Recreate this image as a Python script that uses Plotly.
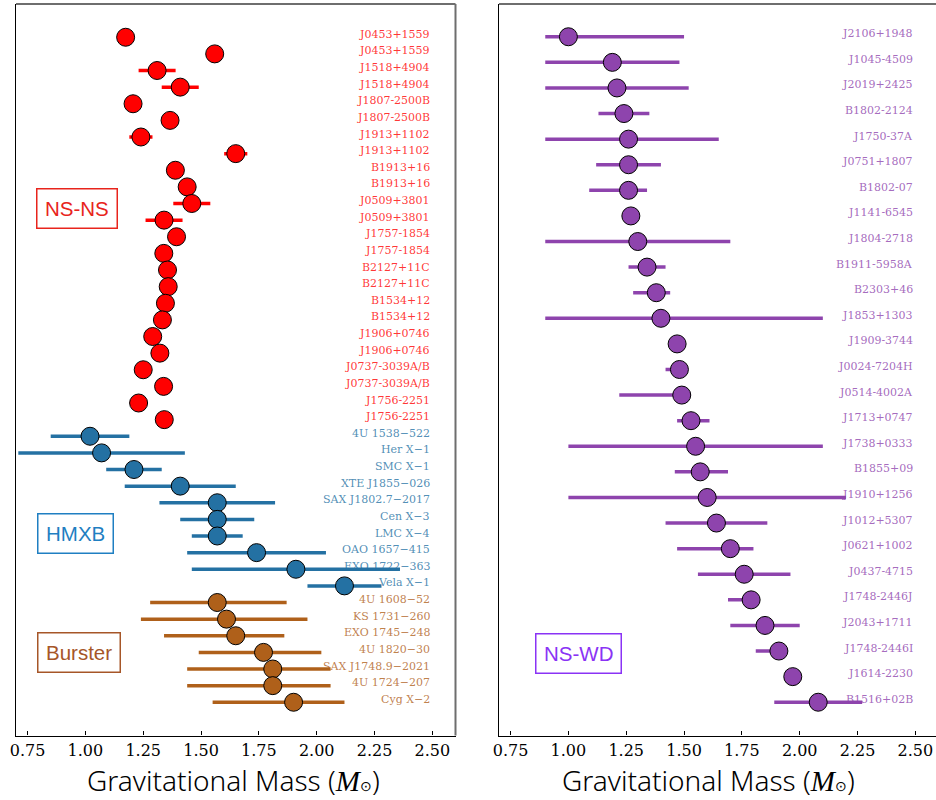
import plotly.graph_objects as go

# ---------------- data ----------------
# Double neutron star systems (pulsar and companion masses)
nsns_names = ["J0453+1559", "J0453+1559", "J1518+4904", "J1518+4904",
              "J1807-2500B", "J1807-2500B", "J1913+1102", "J1913+1102",
              "B1913+16", "B1913+16", "J0509+3801", "J0509+3801",
              "J1757-1854", "J1757-1854", "B2127+11C", "B2127+11C",
              "B1534+12", "B1534+12", "J1906+0746", "J1906+0746",
              "J0737-3039A/B", "J0737-3039A/B", "J1756-2251", "J1756-2251"]
nsns_mass = [1.174, 1.559, 1.31, 1.41, 1.206, 1.366, 1.24, 1.65,
             1.389, 1.440, 1.46, 1.34, 1.394, 1.339, 1.355, 1.358,
             1.346, 1.333, 1.291, 1.322, 1.250, 1.338, 1.230, 1.341]
nsns_lo = [0.0, 0.0, 0.08, 0.08, 0.0, 0.0, 0.05, 0.05,
           0.0, 0.0, 0.08, 0.08, 0.0, 0.0, 0.0, 0.0,
           0.0, 0.0, 0.0, 0.0, 0.0, 0.0, 0.0, 0.0]
nsns_hi = [0.0, 0.0, 0.08, 0.08, 0.0, 0.0, 0.05, 0.05,
           0.0, 0.0, 0.08, 0.08, 0.0, 0.0, 0.0, 0.0,
           0.0, 0.0, 0.0, 0.0, 0.0, 0.0, 0.0, 0.0]

# High-mass X-ray binaries
hmxb_names = ["4U 1538\u2212522", "Her X\u22121", "SMC X\u22121", "XTE J1855\u2212026",
              "SAX J1802.7\u22122017", "Cen X\u22123", "LMC X\u22124",
              "OAO 1657\u2212415", "EXO 1722\u2212363", "Vela X\u22121"]
hmxb_mass = [1.02, 1.07, 1.21, 1.41, 1.57, 1.57, 1.57, 1.74, 1.91, 2.12]
hmxb_lo = [0.17, 0.36, 0.12, 0.24, 0.25, 0.16, 0.11, 0.30, 0.45, 0.16]
hmxb_hi = [0.17, 0.36, 0.12, 0.24, 0.25, 0.16, 0.11, 0.30, 0.45, 0.16]

# X-ray bursters
burst_names = ["4U 1608\u221252", "KS 1731\u2212260", "EXO 1745\u2212248",
               "4U 1820\u221230", "SAX J1748.9\u22122021", "4U 1724\u2212207",
               "Cyg X\u22122"]
burst_mass = [1.57, 1.61, 1.65, 1.77, 1.81, 1.81, 1.90]
burst_lo = [0.29, 0.37, 0.31, 0.28, 0.37, 0.37, 0.35]
burst_hi = [0.30, 0.35, 0.21, 0.25, 0.25, 0.25, 0.22]

# Neutron star - white dwarf binaries
nswd_names = ["J2106+1948", "J1045-4509", "J2019+2425", "B1802-2124",
              "J1750-37A", "J0751+1807", "B1802-07", "J1141-6545",
              "J1804-2718", "B1911-5958A", "B2303+46", "J1853+1303",
              "J1909-3744", "J0024-7204H", "J0514-4002A", "J1713+0747",
              "J1738+0333", "B1855+09", "J1910+1256", "J1012+5307",
              "J0621+1002", "J0437-4715", "J1748-2446J", "J2043+1711",
              "J1748-2446I", "J1614-2230", "B1516+02B"]
nswd_mass = [1.00, 1.19, 1.21, 1.24, 1.26, 1.26, 1.26, 1.27,
             1.30, 1.34, 1.38, 1.40, 1.47, 1.48, 1.49, 1.53,
             1.55, 1.57, 1.60, 1.64, 1.70, 1.76, 1.79, 1.85,
             1.91, 1.97, 2.08]
nswd_lo = [0.10, 0.29, 0.31, 0.11, 0.36, 0.14, 0.17, 0.0,
           0.40, 0.08, 0.10, 0.50, 0.0, 0.06, 0.27, 0.06,
           0.55, 0.11, 0.60, 0.22, 0.23, 0.20, 0.10, 0.15,
           0.10, 0.0, 0.19]
nswd_hi = [0.50, 0.29, 0.31, 0.11, 0.39, 0.14, 0.08, 0.0,
           0.40, 0.08, 0.06, 0.70, 0.0, 0.03, 0.04, 0.08,
           0.55, 0.12, 0.60, 0.22, 0.10, 0.20, 0.03, 0.15,
           0.02, 0.0, 0.19]

tick_vals = [0.75, 1.00, 1.25, 1.50, 1.75, 2.00, 2.25, 2.50]

# ---------------- styling ----------------
W, H = 936, 800
C_NSNS = "#ff0000"
C_HMXB = "#2471a3"
C_BURST = "#af601a"
C_NSWD = "#8e44ad"
SERIF = "DejaVu Serif, serif"


def rgba(hex_color, a):
    h = hex_color.lstrip("#")
    r, g, b = int(h[0:2], 16), int(h[2:4], 16), int(h[4:6], 16)
    return f"rgba({r},{g},{b},{a})"


left_px = (16, 455.5)
right_px = (499, 936)
top_px, bot_px = 4, 735.5

fig = go.Figure()


def add_group(names, mass, lo, hi, rows, color, xa, ya):
    fig.add_trace(go.Scatter(
        x=mass, y=rows, mode="markers", xaxis=xa, yaxis=ya,
        marker=dict(size=18, color=color, line=dict(color="black", width=1)),
        error_x=dict(type="data", symmetric=False, array=hi, arrayminus=lo,
                     thickness=3.5, width=0, color=color),
        hoverinfo="skip",
    ))
    xref = "x" if xa == "x" else "x2"
    yref = "y" if ya == "y" else "y2"
    for n, r in zip(names, rows):
        fig.add_annotation(
            x=2.50, y=r, xref=xref, yref=yref, text=n, showarrow=False,
            xanchor="right", yanchor="middle", yshift=3,
            font=dict(family=SERIF, size=11, color=rgba(color, 0.8)),
        )


n1, n2, n3 = len(nsns_names), len(hmxb_names), len(burst_names)
rows_nsns = list(range(0, n1))
rows_hmxb = list(range(n1, n1 + n2))
rows_burst = list(range(n1 + n2, n1 + n2 + n3))
rows_nswd = list(range(len(nswd_names)))

add_group(nsns_names, nsns_mass, nsns_lo, nsns_hi, rows_nsns, C_NSNS, "x", "y")
add_group(hmxb_names, hmxb_mass, hmxb_lo, hmxb_hi, rows_hmxb, C_HMXB, "x", "y")
add_group(burst_names, burst_mass, burst_lo, burst_hi, rows_burst, C_BURST, "x", "y")
add_group(nswd_names, nswd_mass, nswd_lo, nswd_hi, rows_nswd, C_NSWD, "x2", "y2")

px_per_unit = (left_px[1] - left_px[0]) / (2.60 - 0.70)
right_max = 0.70 + (right_px[1] - right_px[0]) / px_per_unit

xcommon = dict(
    tickvals=tick_vals, tickformat=".2f", ticks="inside", ticklen=4,
    tickwidth=1, tickcolor="black", showline=True, linecolor="black",
    linewidth=1.3, showgrid=False, zeroline=False, automargin=False,
    tickfont=dict(family=SERIF, size=16, color="black"),
)
ycommon = dict(
    showline=True, linecolor="black", linewidth=1.3, showgrid=False,
    zeroline=False, showticklabels=False, ticks="", automargin=False,
    domain=[1 - bot_px / H, 1 - top_px / H],
)

fig.update_layout(
    template="none",
    font=dict(family=SERIF),
    width=W, height=H, margin=dict(l=0, r=0, t=0, b=0, pad=0),
    paper_bgcolor="white", plot_bgcolor="white", showlegend=False,
    xaxis=dict(range=[0.70, 2.60], domain=[left_px[0] / W, left_px[1] / W],
               anchor="y", **xcommon),
    xaxis2=dict(range=[0.70, right_max], domain=[right_px[0] / W, 1.0],
                anchor="y2", **xcommon),
    yaxis=dict(range=[n1 + n2 + n3 + 1, -2], anchor="x", **ycommon),
    yaxis2=dict(range=[len(nswd_names) + 0.3, -1.28], anchor="x2", **ycommon),
)

# gray top/right spines
spine = dict(color="#6e6e6e", width=2)
for x0, x1 in (left_px, right_px):
    fig.add_shape(type="line", xref="paper", yref="paper",
                  x0=x0 / W, x1=min(x1, W) / W, y0=1 - top_px / H, y1=1 - top_px / H,
                  line=spine)
fig.add_shape(type="line", xref="paper", yref="paper",
              x0=left_px[1] / W, x1=left_px[1] / W,
              y0=1 - bot_px / H, y1=1 - top_px / H, line=spine)

# class labels in boxes
boxes = [
    ("NS-NS", 77.3, 208.0, "#e8241c"),
    ("HMXB", 75.3, 533.8, "#1f7fc2"),
    ("Burster", 78.7, 652.8, "#a65628"),
    ("NS-WD", 578.0, 653.0, "#8a33f5"),
]
for txt, cx, cy, col in boxes:
    fig.add_annotation(
        x=cx / W, y=1 - cy / H, xref="paper", yref="paper", text=txt,
        showarrow=False, xanchor="center", yanchor="middle",
        font=dict(family="Liberation Sans", size=20.5, color=col),
        bordercolor=col, borderwidth=1.5, borderpad=7.5, bgcolor="white",
    )

# axis titles
title = ('Gravitational Mass ('
         '<span style="font-family:Liberation Serif;font-size:29px;font-style:italic">M</span>'
         '<span style="font-size:14px">\u2299</span>)')
for cx in (233.0, 708.0):
    fig.add_annotation(
        x=cx / W, y=1 - 780 / H, xref="paper", yref="paper", text=title,
        showarrow=False, xanchor="center", yanchor="middle",
        font=dict(family="Noto Sans", size=28, color="black", weight=300),
    )

fig.write_html("out.html")
